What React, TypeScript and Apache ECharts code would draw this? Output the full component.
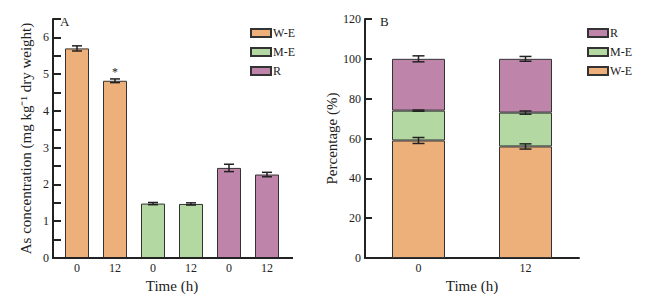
import React, { useEffect, useRef } from "react";
import * as echarts from "echarts";

const categoriesA = ["0", "12", "0", "12", "0", "12"];
const weA = [5.7, 4.82, "-", "-", "-", "-"];
const meA = ["-", "-", 1.48, 1.47, "-", "-"];
const rA = ["-", "-", "-", "-", 2.45, 2.27];
const errA = [0.07, 0.05, 0.03, 0.03, 0.1, 0.06];
const meanA = [5.7, 4.82, 1.48, 1.47, 2.45, 2.27];

const categoriesB = ["0", "12"];
const weB = [59, 56];
const meB = [15, 17];
const rB = [26, 27];
const errWeB = [1.5, 1.3];
const errMeB = [0.3, 0.8];
const errRB = [1.5, 1.2];

const ORANGE = "#EDB07A";
const GREEN = "#B3D8A2";
const PURPLE = "#BF84AA";
const FONT = "Liberation Serif";
const AX = "#222";

function errRender(capW: number) {
  return (params: any, api: any) => {
    const x = api.value(0);
    const y = api.value(1);
    const e = api.value(2);
    const hi = api.coord([x, y + e]);
    const lo = api.coord([x, y - e]);
    const st = { stroke: "#222", lineWidth: 1.5 };
    return {
      type: "group",
      children: [
        { type: "line", shape: { x1: hi[0], y1: hi[1], x2: lo[0], y2: lo[1] }, style: st },
        { type: "line", shape: { x1: hi[0] - capW / 2, y1: hi[1], x2: hi[0] + capW / 2, y2: hi[1] }, style: st },
        { type: "line", shape: { x1: lo[0] - capW / 2, y1: lo[1], x2: lo[0] + capW / 2, y2: lo[1] }, style: st },
      ],
    };
  };
}

export default function App() {
  const ref = useRef<HTMLDivElement>(null);
  useEffect(() => {
    if (!ref.current) return;
    const chart = echarts.init(ref.current, null, { renderer: "svg" });
    const labelStyle = { fontFamily: FONT, fontSize: 12, color: AX };
    const nameStyle = { fontFamily: FONT, fontSize: 15, color: AX, fontWeight: "normal" };
    const itemStyle = (c: string) => ({ color: c, borderColor: "#333", borderWidth: 1 });

    const cumWe = weB.slice();
    const cumMe = weB.map((v, i) => v + meB[i]);
    const cumR = weB.map((v, i) => v + meB[i] + rB[i]);

    const weAData = weA.map((v, i) =>
      i === 1 ? { value: v, label: { show: true, position: "top", distance: 3, formatter: "*", fontFamily: FONT, fontSize: 12, color: AX } } : v
    );

    chart.setOption({
      animation: false,
      textStyle: { fontFamily: FONT },
      grid: [
        { left: 58, top: 19, width: 228, height: 239 },
        { left: 365, top: 19, width: 214, height: 239 },
      ],
      legend: [
        {
          data: ["W-E", "M-E", "R"],
          orient: "vertical",
          left: 245,
          top: 22,
          itemWidth: 20,
          itemHeight: 8,
          itemGap: 7,
          icon: "rect",
          textStyle: { fontFamily: FONT, fontSize: 12, color: AX, padding: [0, 0, 0, -3] },
        },
        {
          data: ["R ", "M-E ", "W-E "],
          orient: "vertical",
          left: 582,
          top: 22,
          itemWidth: 20,
          itemHeight: 8,
          itemGap: 7,
          icon: "rect",
          textStyle: { fontFamily: FONT, fontSize: 12, color: AX, padding: [0, 0, 0, -3] },
        },
      ],
      xAxis: [
        {
          type: "category",
          gridIndex: 0,
          data: categoriesA,
          axisLine: { show: false },
          axisTick: { inside: true, alignWithLabel: true, length: 8, lineStyle: { color: AX, width: 1.5 } },
          axisLabel: { ...labelStyle, margin: 4 },
          name: "Time (h)",
          nameLocation: "middle",
          nameGap: 16,
          nameTextStyle: nameStyle,
        },
        {
          type: "category",
          gridIndex: 1,
          data: categoriesB,
          axisLine: { show: true, lineStyle: { color: AX, width: 2 } },
          axisTick: { inside: true, alignWithLabel: true, length: 8, lineStyle: { color: AX, width: 1.5 } },
          axisLabel: { ...labelStyle, margin: 4 },
          name: "Time (h)",
          nameLocation: "middle",
          nameGap: 16,
          nameTextStyle: nameStyle,
        },
      ],
      yAxis: [
        {
          type: "value",
          gridIndex: 0,
          min: 0,
          max: 6.5,
          interval: 0.5,
          offset: 5,
          axisLine: { show: true, lineStyle: { color: AX, width: 2 } },
          axisTick: { show: true, inside: true, length: 8, lineStyle: { color: AX, width: 2 } },
          splitLine: { show: false },
          axisLabel: {
            ...labelStyle,
            margin: 4,
            formatter: (v: number) => (Number.isInteger(v) ? String(v) : ""),
          },
          name: "As concentration (mg kg\u207B\u00B9 dry weight)",
          nameLocation: "middle",
          nameGap: 20,
          nameTextStyle: nameStyle,
        },
        {
          type: "value",
          gridIndex: 1,
          min: 0,
          max: 120,
          interval: 20,
          axisLine: { show: true, lineStyle: { color: AX, width: 2 } },
          axisTick: { show: true, inside: true, length: 7, lineStyle: { color: AX, width: 2 } },
          splitLine: { show: false },
          axisLabel: { ...labelStyle, margin: 4 },
          name: "Percentage (%)",
          nameLocation: "middle",
          nameGap: 26,
          nameTextStyle: nameStyle,
        },
      ],
      graphic: [
        { type: "line", shape: { x1: 52, y1: 258, x2: 293, y2: 258 }, style: { stroke: AX, lineWidth: 2 }, z: 100 },
        { type: "text", left: 60, top: 15, style: { text: "A", font: `13px ${FONT}`, fill: AX } },
        { type: "text", left: 380, top: 15, style: { text: "B", font: `13px ${FONT}`, fill: AX } },
      ],
      series: [
        { name: "W-E", type: "bar", xAxisIndex: 0, yAxisIndex: 0, stack: "a", barWidth: 24, data: weAData, itemStyle: itemStyle(ORANGE) },
        { name: "M-E", type: "bar", xAxisIndex: 0, yAxisIndex: 0, stack: "a", barWidth: 24, data: meA, itemStyle: itemStyle(GREEN) },
        { name: "R", type: "bar", xAxisIndex: 0, yAxisIndex: 0, stack: "a", barWidth: 24, data: rA, itemStyle: itemStyle(PURPLE) },
        {
          type: "custom",
          xAxisIndex: 0,
          yAxisIndex: 0,
          z: 10,
          renderItem: errRender(10),
          encode: { x: 0, y: 1 },
          data: meanA.map((v, i) => [i, v, errA[i]]),
        },
        { name: "W-E ", type: "bar", xAxisIndex: 1, yAxisIndex: 1, stack: "b", barWidth: 53, data: weB, itemStyle: itemStyle(ORANGE) },
        { name: "M-E ", type: "bar", xAxisIndex: 1, yAxisIndex: 1, stack: "b", barWidth: 53, data: meB, itemStyle: itemStyle(GREEN) },
        { name: "R ", type: "bar", xAxisIndex: 1, yAxisIndex: 1, stack: "b", barWidth: 53, data: rB, itemStyle: itemStyle(PURPLE) },
        {
          type: "custom",
          xAxisIndex: 1,
          yAxisIndex: 1,
          z: 10,
          renderItem: errRender(12),
          encode: { x: 0, y: 1 },
          data: [
            ...cumWe.map((v, i) => [i, v, errWeB[i]]),
            ...cumMe.map((v, i) => [i, v, errMeB[i]]),
            ...cumR.map((v, i) => [i, v, errRB[i]]),
          ],
        },
      ],
    });
    return () => chart.dispose();
  }, []);
  return <div ref={ref} style={{ width: 664, height: 300, position: "absolute", left: 0, top: 0 }} />;
}
